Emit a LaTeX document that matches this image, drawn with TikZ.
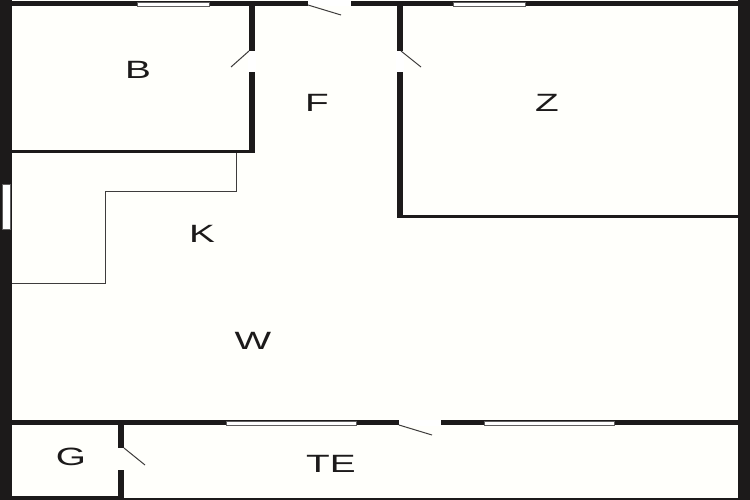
\documentclass[tikz,border=0pt]{standalone}
\usepackage{fontspec}
\setsansfont{Liberation Sans}
\usetikzlibrary{arrows}
\definecolor{paper}{HTML}{FFFFFB}
\definecolor{wallc}{HTML}{1C1A1A}
\tikzset{>=latex}
\tikzset{wall/.style={fill=wallc,draw=none}}
\tikzset{glass/.style={fill=white,draw=wallc!70,line width=0.3pt}}
\tikzset{gap/.style={fill=white,draw=none}}
\tikzset{leaf/.style={draw=wallc!85,line width=1pt}}
\tikzset{room/.style={font=\sffamily\fontsize{25}{25}\selectfont,text=wallc,xscale=1.55,transform shape,inner sep=0pt}}
\def\ux{1pt}
\def\uy{-1pt}

\begin{document}
\begin{tikzpicture}[x=\ux,y=\uy]
		\useasboundingbox (0,0) rectangle (750,500);
		\fill[paper] (0,0) rectangle (750,500);

		% outer walls
		\fill[wall] (0,0) rectangle (12,500);
		\fill[wall] (738,0) rectangle (750,500);
		\fill[wall] (0,1) rectangle (750,6);
		\fill[wall] (0,496) rectangle (124,500);
		\fill[wall] (124,498) rectangle (750,500);

		% inner walls
		\fill[wall] (12,420) rectangle (738,425);
		\fill[wall] (249,4) rectangle (255,153);
		\fill[wall] (12,150) rectangle (255,153);
		\fill[wall] (397,4) rectangle (403,218);
		\fill[wall] (397,215) rectangle (738,218);
		\fill[wall] (118,425) rectangle (124,497);

		% windows
		\foreach \a/\b in {137/209,453/525}{
			\draw[glass] (\a,2) rectangle (\b,6);
		}
		\foreach \a/\b in {226/356,484/614}{
			\draw[glass] (\a,421) rectangle (\b,425);
		}
		\draw[glass] (2,184) rectangle (10,229);

		% door openings
		\fill[gap] (308,0) rectangle (351,6.5);
		\fill[gap] (399,419.5) rectangle (441,425.5);
		\fill[gap] (248,51) rectangle (256,72);
		\fill[gap] (396,51) rectangle (404,72);
		\fill[paper] (117,448) rectangle (125,470);

		% door leaves
		\draw[leaf] (308,5) -- (341,15);
		\draw[leaf] (399,425) -- (432,435);
		\draw[leaf] (249,51) -- (231,67);
		\draw[leaf] (401,51) -- (421,67);
		\draw[leaf] (124,448) -- (145,465);

		% kitchen
		\draw[draw=wallc!85,line width=1pt] (236,153) -- (236,192) -- (105,192) -- (105,283) -- (12,283);

		\node[room] (b) at (138,69.5) {B};
		\node[room] (f) at (317,102.5) {F};
		\node[room] (z) at (547,102.5) {Z};
		\node[room] (k) at (202,234) {K};
		\node[room] (w) at (253,341) {W};
		\node[room] (g) at (71,456.5) {G};
		\node[room] (te) at (331,463.5) {TE};
\end{tikzpicture}
\end{document}
